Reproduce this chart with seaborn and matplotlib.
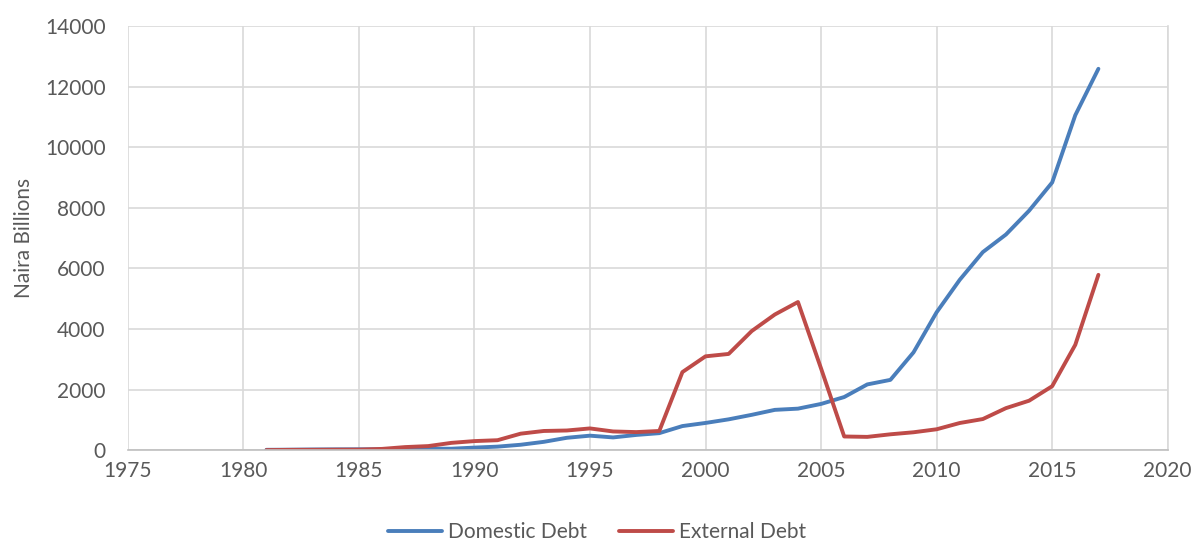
import pandas as pd
import matplotlib.pyplot as plt
import seaborn as sns

# Nigeria public debt, Naira billions
years = list(range(1981, 2018))
domestic_debt = [11, 15, 22, 26, 28, 28, 37, 47, 47, 84, 116, 178, 274, 408, 478,
                 420, 502, 561, 795, 898, 1017, 1166, 1330, 1370, 1526, 1753, 2170,
                 2320, 3228, 4552, 5623, 6538, 7119, 7904, 8837, 11058, 12589]
external_debt = [2, 9, 11, 15, 17, 41, 101, 134, 240, 299, 328, 544, 633, 649, 717,
                 617, 596, 633, 2577, 3097, 3176, 3932, 4478, 4890, 2695, 451, 438,
                 523, 590, 689, 896, 1027, 1387, 1632, 2111, 3478, 5787]
series_names = ["Domestic Debt", "External Debt"]
colors = ["#4a7ebb", "#be4b48"]

df = pd.DataFrame({
    "Year": years * 2,
    "Value": domestic_debt + external_debt,
    "Series": [series_names[0]] * len(years) + [series_names[1]] * len(years),
})

sns.set_style("whitegrid")
plt.rcParams["font.family"] = ["Lato", "DejaVu Sans"]

fig, ax = plt.subplots(figsize=(11.94, 5.43), dpi=100)
fig.subplots_adjust(left=0.107, right=0.978, top=0.952, bottom=0.171)

sns.lineplot(data=df, x="Year", y="Value", hue="Series", palette=colors,
             linewidth=2.8, ax=ax)

ax.set_xlim(1975, 2020)
ax.set_ylim(0, 14000)
ax.set_xticks(range(1975, 2021, 5))
ax.set_yticks(range(0, 14001, 2000))
ax.grid(True, color="#d9d9d9", linewidth=1.2)
for side in ["top", "left"]:
    ax.spines[side].set_visible(False)
ax.spines["right"].set_color("#d9d9d9")
ax.spines["right"].set_linewidth(1.2)
ax.spines["bottom"].set_color("#bfbfbf")
ax.spines["bottom"].set_linewidth(1.2)
ax.tick_params(axis="both", length=0, labelsize=15, colors="#595959")
ax.tick_params(axis="y", pad=16)
ax.tick_params(axis="x", pad=8)

ax.set_xlabel("")
ax.set_ylabel("Naira Billions", fontsize=15, color="#595959", labelpad=8)

# legend centred on the figure, below the axes
handles, labels = ax.get_legend_handles_labels()
ax.get_legend().remove()
fig.legend(handles, labels, loc="center", bbox_to_anchor=(0.5, 0.02), ncol=2,
           frameon=False, fontsize=15, handlelength=2.6, columnspacing=1.5,
           handletextpad=0.3, labelcolor="#595959")

plt.savefig("out.png", dpi=100)
